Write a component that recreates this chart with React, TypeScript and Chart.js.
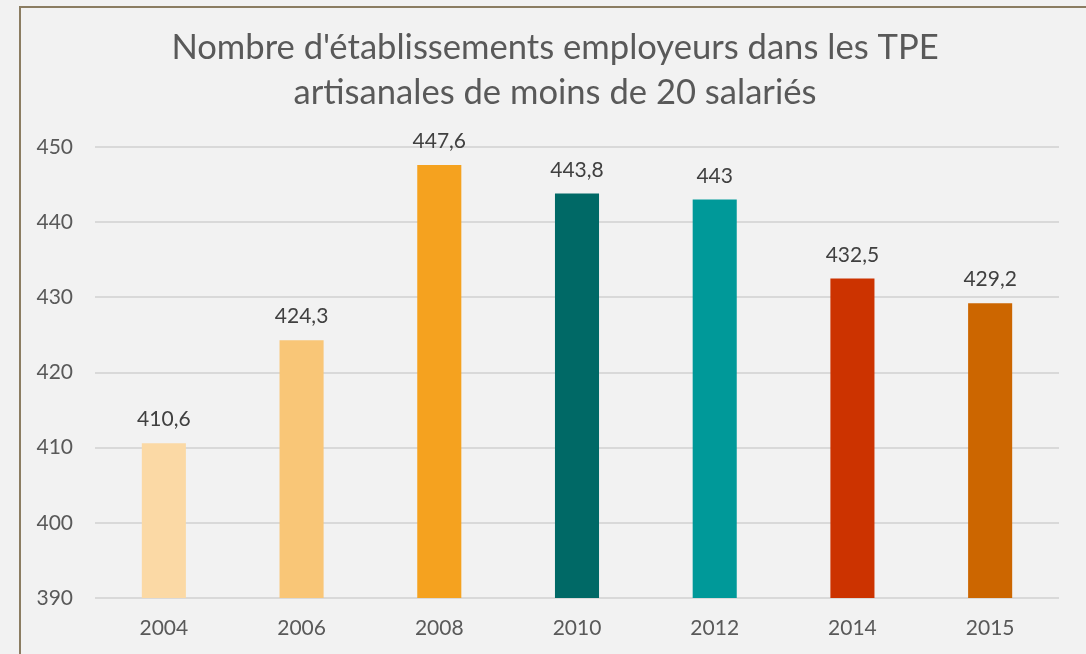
import React, { useEffect, useRef } from "react";
import { Chart, registerables } from "chart.js";

Chart.register(...registerables);

const categories: string[] = ["2004", "2006", "2008", "2010", "2012", "2014", "2015"];
const values: number[] = [410.6, 424.3, 447.6, 443.8, 443, 432.5, 429.2];
const barColors: string[] = ["#FBD9A5", "#F9C677", "#F5A21F", "#006966", "#009999", "#CC3300", "#CC6600"];
const titleLines: string[] = [
  "Nombre d'établissements employeurs dans les TPE",
  "artisanales de moins de 20 salariés",
];
const yMin = 390;
const yMax = 450;
const yStep = 10;

const FONT = "Lato, 'Open Sans', sans-serif";

const fmt = (v: number) => String(v).replace(".", ",");

const dataLabelPlugin = {
  id: "dataLabels",
  afterDatasetsDraw(chart: any) {
    const ctx = chart.ctx;
    const meta = chart.getDatasetMeta(0);
    ctx.save();
    ctx.font = `21px ${FONT}`;
    ctx.fillStyle = "#404040";
    ctx.textAlign = "center";
    ctx.textBaseline = "alphabetic";
    meta.data.forEach((bar: any, i: number) => {
      ctx.fillText(fmt(values[i]), bar.x, bar.y - 17);
    });
    ctx.restore();
  },
};

const titlePlugin = {
  id: "customTitle",
  afterDraw(chart: any) {
    const ctx = chart.ctx;
    ctx.save();
    ctx.font = `34.6px ${FONT}`;
    ctx.fillStyle = "#595959";
    ctx.textAlign = "center";
    ctx.textBaseline = "middle";
    titleLines.forEach((line, i) => {
      ctx.fillText(line, 555, 48 + i * 45);
    });
    ctx.restore();
  },
};

export default function App() {
  const canvasRef = useRef<HTMLCanvasElement | null>(null);

  useEffect(() => {
    if (!canvasRef.current) return;
    const chart = new Chart(canvasRef.current, {
      type: "bar",
      data: {
        labels: categories,
        datasets: [
          {
            data: values,
            backgroundColor: barColors,
            borderWidth: 0,
            categoryPercentage: 1,
            barPercentage: 0.32,
          },
        ],
      },
      options: {
        responsive: false,
        animation: false,
        layout: { padding: { left: 0, right: 27, top: 147, bottom: 0 } },
        plugins: {
          legend: { display: false },
          tooltip: { enabled: false },
          title: { display: false },
        },
        scales: {
          x: {
            afterFit(scale: any) {
              scale.height = 56;
            },
            grid: { display: false },
            border: { display: false },
            ticks: {
              color: "#595959",
              font: { family: FONT, size: 21 },
              padding: 10,
              maxRotation: 0,
            },
          },
          y: {
            min: yMin,
            max: yMax,
            afterFit(scale: any) {
              scale.width = 95;
            },
            grid: { color: "#D9D9D9", lineWidth: 2, drawTicks: false },
            border: { display: false },
            ticks: {
              stepSize: yStep,
              color: "#595959",
              font: { family: FONT, size: 21 },
              padding: 22,
            },
          },
        },
      },
      plugins: [dataLabelPlugin, titlePlugin],
    });
    return () => chart.destroy();
  }, []);

  return (
    <div
      style={{
        position: "fixed",
        left: 0,
        top: 0,
        width: 1086,
        height: 654,
        background: "#F2F2F2",
        overflow: "hidden",
      }}
    >
      <div
        style={{
          position: "absolute",
          left: 19,
          top: 6,
          width: 1200,
          height: 800,
          borderLeft: "2px solid #8B7D62",
          borderTop: "2px solid #8B7D62",
        }}
      />
      <canvas
        ref={canvasRef}
        width={1086}
        height={654}
        style={{ position: "absolute", left: 0, top: 0, width: 1086, height: 654 }}
      />
    </div>
  );
}
